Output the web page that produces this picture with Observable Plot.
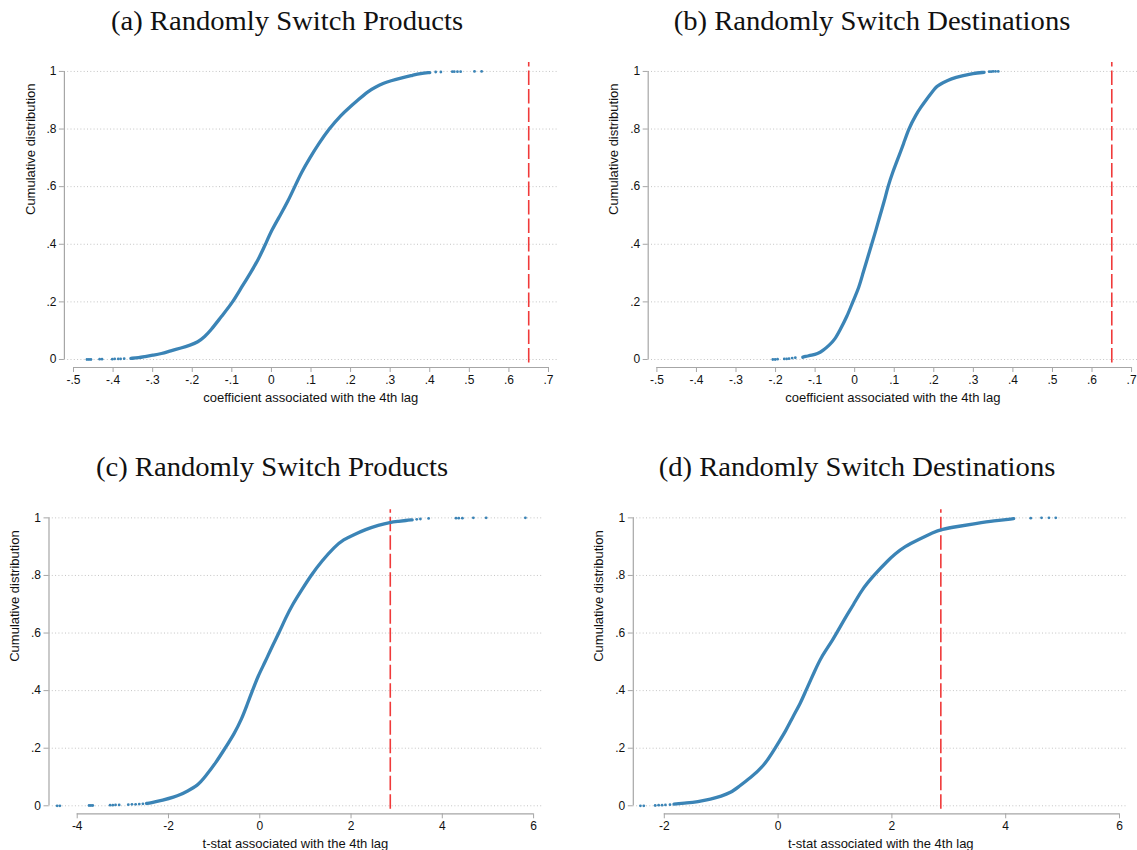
<!DOCTYPE html>
<html>
<head>
<meta charset="utf-8">
<script src="https://cdn.jsdelivr.net/npm/d3@7"></script>
<script src="https://cdn.jsdelivr.net/npm/@observablehq/plot@0.6"></script>
<style>
  html, body { margin: 0; padding: 0; background: #fff; }
  #page { position: relative; width: 1137px; height: 850px; overflow: hidden; background: #fff; }
  .panel { position: absolute; }
  .title { position: absolute; font-family: "Liberation Serif", "DejaVu Serif", serif; font-size: 26.5px; color: #111;
           white-space: nowrap; transform: translate(-50%, -50%) scaleX(1.08); }
</style>
</head>
<body>
<div id="page"></div>
<script>
// ---------- data ----------
const titles = ["(a) Randomly Switch Products", "(b) Randomly Switch Destinations",
                "(c) Randomly Switch Products", "(d) Randomly Switch Destinations"];
const xLabelCoef = "coefficient associated with the 4th lag";
const xLabelT = "t-stat associated with the 4th lag";
const yLabel = "Cumulative distribution";

const yTicks = [0, 0.2, 0.4, 0.6, 0.8, 1];
const coefTicks = [-0.5, -0.4, -0.3, -0.2, -0.1, 0, 0.1, 0.2, 0.3, 0.4, 0.5, 0.6, 0.7];
const tTicksC = [-4, -2, 0, 2, 4, 6];
const tTicksD = [-2, 0, 2, 4, 6];

const observedCoef = 0.65;
const observedT = 2.86;

// (a) coefficient, products
const aX = [-0.355,-0.335,-0.32,-0.30,-0.278,-0.255,-0.228,-0.205,-0.186,-0.168,-0.154,-0.126,-0.097,-0.076,-0.053,-0.032,-0.015,0.001,0.022,0.042,0.059,0.076,0.097,0.120,0.145,0.177,0.197,0.218,0.243,0.262,0.285,0.300,0.330,0.358,0.376,0.400];
const aY = [0.004,0.006,0.010,0.015,0.020,0.030,0.040,0.050,0.060,0.080,0.100,0.150,0.200,0.250,0.300,0.350,0.400,0.450,0.500,0.550,0.600,0.650,0.700,0.750,0.800,0.850,0.875,0.900,0.930,0.945,0.960,0.967,0.978,0.987,0.993,0.996];
const aTailX = [-0.466,-0.461,-0.456,-0.434,-0.428,-0.402,-0.396,-0.387,-0.381,-0.372,0.415,0.428,0.457,0.462,0.470,0.478,0.513,0.531];
const aTailY = [0.000,0.000,0.000,0.001,0.001,0.001,0.002,0.002,0.002,0.003,0.998,0.998,0.999,0.999,0.999,0.999,1.000,1.000];

// (b) coefficient, destinations
const bX = [-0.131,-0.126,-0.108,-0.094,-0.081,-0.064,-0.050,-0.038,-0.019,-0.005,0.011,0.021,0.032,0.043,0.054,0.064,0.075,0.084,0.096,0.110,0.124,0.136,0.155,0.167,0.180,0.194,0.208,0.222,0.244,0.272,0.299,0.327];
const bY = [0.008,0.010,0.015,0.020,0.030,0.050,0.070,0.100,0.150,0.200,0.250,0.300,0.350,0.400,0.450,0.500,0.550,0.600,0.650,0.700,0.750,0.800,0.850,0.875,0.900,0.925,0.950,0.960,0.975,0.985,0.993,0.997];
const bTailX = [-0.207,-0.201,-0.195,-0.178,-0.172,-0.166,-0.158,-0.150,0.340,0.345,0.350,0.356,0.363];
const bTailY = [0.000,0.000,0.001,0.002,0.002,0.003,0.005,0.006,0.999,0.999,1.000,1.000,1.000];

// (c) t-stat, products
const cX = [-2.48,-2.40,-2.12,-1.88,-1.72,-1.60,-1.36,-1.20,-0.96,-0.76,-0.56,-0.40,-0.28,-0.16,-0.04,0.12,0.26,0.42,0.56,0.72,0.92,1.12,1.36,1.64,1.84,2.04,2.32,2.60,2.86,3.05,3.20,3.34];
const cY = [0.008,0.010,0.020,0.030,0.040,0.050,0.070,0.100,0.150,0.200,0.250,0.300,0.350,0.400,0.450,0.500,0.550,0.600,0.650,0.700,0.750,0.800,0.850,0.900,0.925,0.940,0.960,0.975,0.985,0.988,0.991,0.993];
const cTailX = [-4.44,-4.38,-3.74,-3.70,-3.66,-3.28,-3.22,-3.16,-3.08,-2.88,-2.80,-2.72,-2.64,-2.56,3.44,3.52,3.70,4.30,4.36,4.44,4.68,4.96,5.82];
const cTailY = [0.000,0.000,0.001,0.001,0.001,0.002,0.002,0.003,0.003,0.004,0.005,0.005,0.006,0.007,0.995,0.996,0.998,0.999,0.999,0.999,1.000,1.000,1.000];

// (d) t-stat, destinations
const dX = [-1.83,-1.60,-1.42,-1.18,-1.00,-0.83,-0.71,-0.48,-0.25,-0.10,-0.01,0.135,0.253,0.40,0.487,0.633,0.75,0.956,1.17,1.33,1.47,1.68,1.92,2.06,2.22,2.47,2.73,2.87,3.15,3.47,3.79,4.14];
const dY = [0.006,0.010,0.014,0.023,0.033,0.046,0.064,0.098,0.139,0.185,0.214,0.260,0.307,0.359,0.400,0.463,0.515,0.573,0.650,0.700,0.750,0.800,0.850,0.875,0.900,0.925,0.950,0.960,0.970,0.980,0.990,0.997];
const dTailX = [-2.42,-2.36,-2.16,-2.10,-2.04,-1.98,-1.90];
const dTailY = [0.000,0.000,0.001,0.002,0.002,0.003,0.004];
const dTopX = [4.44,4.63,4.76,4.88];
const dTopY = [0.999,1.000,1.000,1.000];

// ---------- styling / layout ----------
const blue = "#3b84b6";
const red = "#f03a3a";
const axisGray = "#a6a6a6";

const fmtY = d => d === 0 ? "0" : d === 1 ? "1" : "." + Math.round(d * 10);
const fmtCoef = d => d === 0 ? "0" : (d < 0 ? "-" : "") + "." + Math.round(Math.abs(d) * 10);
const fmtT = d => d < 0 ? "-" + Math.abs(d) : String(d);

const zip = (xs, ys) => xs.map((x, i) => ({x, y: ys[i]}));

const panels = [
  {title: titles[0], tx: 287, ty: 21, left: 0, top: 40, w: 570, h: 380, ml: 63.9, mr: 13.4, mt: 22, mb: 53,
   xd: [-0.523, 0.7217], yd: [-0.0278, 1.031], ticks: coefTicks, fmt: fmtCoef, xlab: xLabelCoef,
   ylabDx: -33.6, obs: observedCoef, X: aX, Y: aY, tails: zip(aTailX, aTailY)},
  {title: titles[1], tx: 872, ty: 21, left: 570, top: 40, w: 567, h: 380, ml: 77.7, mr: 0, mt: 22, mb: 53,
   xd: [-0.522, 0.715], yd: [-0.0278, 1.031], ticks: coefTicks, fmt: fmtCoef, xlab: xLabelCoef,
   ylabDx: -33.9, obs: observedCoef, X: bX, Y: bY, tails: zip(bTailX, bTailY)},
  {title: titles[2], tx: 272, ty: 467, left: 0, top: 480, w: 570, h: 370, ml: 48.5, mr: 28.7, mt: 29.3, mb: 36.7,
   xd: [-4.618, 6.18], yd: [-0.0278, 1.028], ticks: tTicksC, fmt: fmtT, xlab: xLabelT,
   ylabDx: -33.9, obs: observedT, X: cX, Y: cY, tails: zip(cTailX, cTailY)},
  {title: titles[3], tx: 857, ty: 467, left: 570, top: 480, w: 567, h: 370, ml: 62.8, mr: 9.3, mt: 29.3, mb: 36.7,
   xd: [-2.545, 6.153], yd: [-0.0278, 1.028], ticks: tTicksD, fmt: fmtT, xlab: xLabelT,
   ylabDx: -34.3, obs: observedT, X: dX, Y: dY, tails: zip(dTailX, dTailY).concat(zip(dTopX, dTopY))}
];

const page = document.getElementById("page");

for (const p of panels) {
  const t = document.createElement("div");
  t.className = "title";
  t.style.left = p.tx + "px";
  t.style.top = p.ty + "px";
  t.textContent = p.title;
  page.appendChild(t);

  const tMin = p.ticks[0], tMax = p.ticks[p.ticks.length - 1];
  const chart = Plot.plot({
    width: p.w, height: p.h,
    marginLeft: p.ml, marginRight: p.mr, marginTop: p.mt, marginBottom: p.mb,
    x: {domain: p.xd},
    y: {domain: p.yd},
    style: {fontFamily: "'Liberation Sans', Arial, sans-serif", fontSize: "12px", color: "#111", background: "transparent", overflow: "visible"},
    marks: [
      Plot.ruleY(yTicks, {x1: p.xd[0], x2: p.xd[1], stroke: "#c4c4c4", strokeWidth: 1, strokeDasharray: "1,2.3"}),
      Plot.ruleX([p.xd[0]], {y1: 0, y2: 1, stroke: axisGray, strokeWidth: 1.2}),
      Plot.ruleY([p.yd[0]], {x1: tMin, x2: tMax, stroke: axisGray, strokeWidth: 1.2}),
      Plot.axisY({ticks: yTicks, tickFormat: fmtY, tickSize: 5, tickPadding: 3, stroke: axisGray, fill: "#111", label: null}),
      Plot.axisX({ticks: p.ticks, tickFormat: p.fmt, tickSize: 5, tickPadding: 3, stroke: axisGray, fill: "#111", label: null}),
      Plot.ruleX([p.obs], {y1: -0.012, y2: p.yd[1], stroke: red, strokeWidth: 1.6, strokeDasharray: "14.5,4"}),
      Plot.line(zip(p.X, p.Y), {x: "x", y: "y", stroke: blue, strokeWidth: 3.3, curve: "basis", strokeLinecap: "round"}),
      Plot.dot(p.tails, {x: "x", y: "y", r: 1.4, fill: blue, stroke: "none"}),
      Plot.text([p.xlab], {frameAnchor: "bottom", dy: 30, fontSize: 13, fill: "#111", lineAnchor: "middle"}),
      Plot.text([yLabel], {frameAnchor: "left", dx: p.ylabDx, rotate: -90, fontSize: 13, fill: "#111", lineAnchor: "middle"})
    ]
  });
  chart.classList.add("panel");
  chart.style.left = p.left + "px";
  chart.style.top = p.top + "px";
  page.appendChild(chart);
}
</script>
</body>
</html>
